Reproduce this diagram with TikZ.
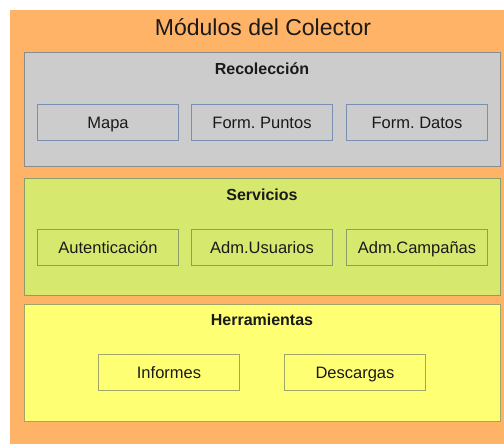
\documentclass[tikz,border=0pt]{standalone}
\usepackage{fontspec}
\setmainfont{Liberation Sans}
\frenchspacing
\definecolor{orangebg}{HTML}{FFB366}
\definecolor{greyfill}{HTML}{CCCCCC}
\definecolor{greyline}{HTML}{8C8C8C}
\definecolor{blueline}{HTML}{7A8FB2}
\definecolor{greenfill}{HTML}{D6E86E}
\definecolor{greenline}{HTML}{8A9E68}
\definecolor{yellowfill}{HTML}{FFFF73}
\definecolor{yellowline}{HTML}{9EA668}
\definecolor{txt}{HTML}{1A1A1A}
\begin{document}
\begin{tikzpicture}[x={(1pt,0)},y={(0,-1pt)},
  group/.style={draw=#1, line width=1pt},
  item/.style={draw=#1, line width=1pt, minimum width=141pt, minimum height=36pt, inner sep=0pt, text height=12pt, text depth=0pt, font=\fontsize{16.5}{19}\selectfont, text=txt, anchor=north west},
  gtitle/.style={font=\fontsize{16}{19}\selectfont\bfseries, text=txt}]
\useasboundingbox (0,0) rectangle (504,444);
\fill[white] (0,0) rectangle (504,444);
\fill[orangebg] (10,10) rectangle (504,444);
\node[font=\fontsize{23}{27}\selectfont, text=txt] (title) at (263,27) {Módulos del Colector};
% Recoleccion
\path[group=greyline, fill=greyfill] (24,53) rectangle (500,166);
\node[gtitle] (rec) at (262,69) {Recolección};
\node[item=blueline, fill=greyfill] (mapa) at (37,104) {Mapa};
\node[item=blueline, fill=greyfill] (fpuntos) at (191,104) {Form. Puntos};
\node[item=blueline, fill=greyfill] (fdatos) at (346,104) {Form. Datos};
% Servicios
\path[group=greenline, fill=greenfill] (24,178) rectangle (500,295);
\node[gtitle] (serv) at (262,195) {Servicios};
\node[item=greenline, fill=greenfill] (aut) at (37,229) {Autenticación};
\node[item=greenline, fill=greenfill] (usr) at (191,229) {Adm.Usuarios};
\node[item=greenline, fill=greenfill] (camp) at (346,229) {Adm.Campañas};
% Herramientas
\path[group=yellowline, fill=yellowfill] (24,304) rectangle (500,421);
\node[gtitle] (herr) at (262,320) {Herramientas};
\node[item=yellowline, fill=yellowfill] (inf) at (98,354) {Informes};
\node[item=yellowline, fill=yellowfill] (desc) at (284,354) {Descargas};
\end{tikzpicture}
\end{document}
